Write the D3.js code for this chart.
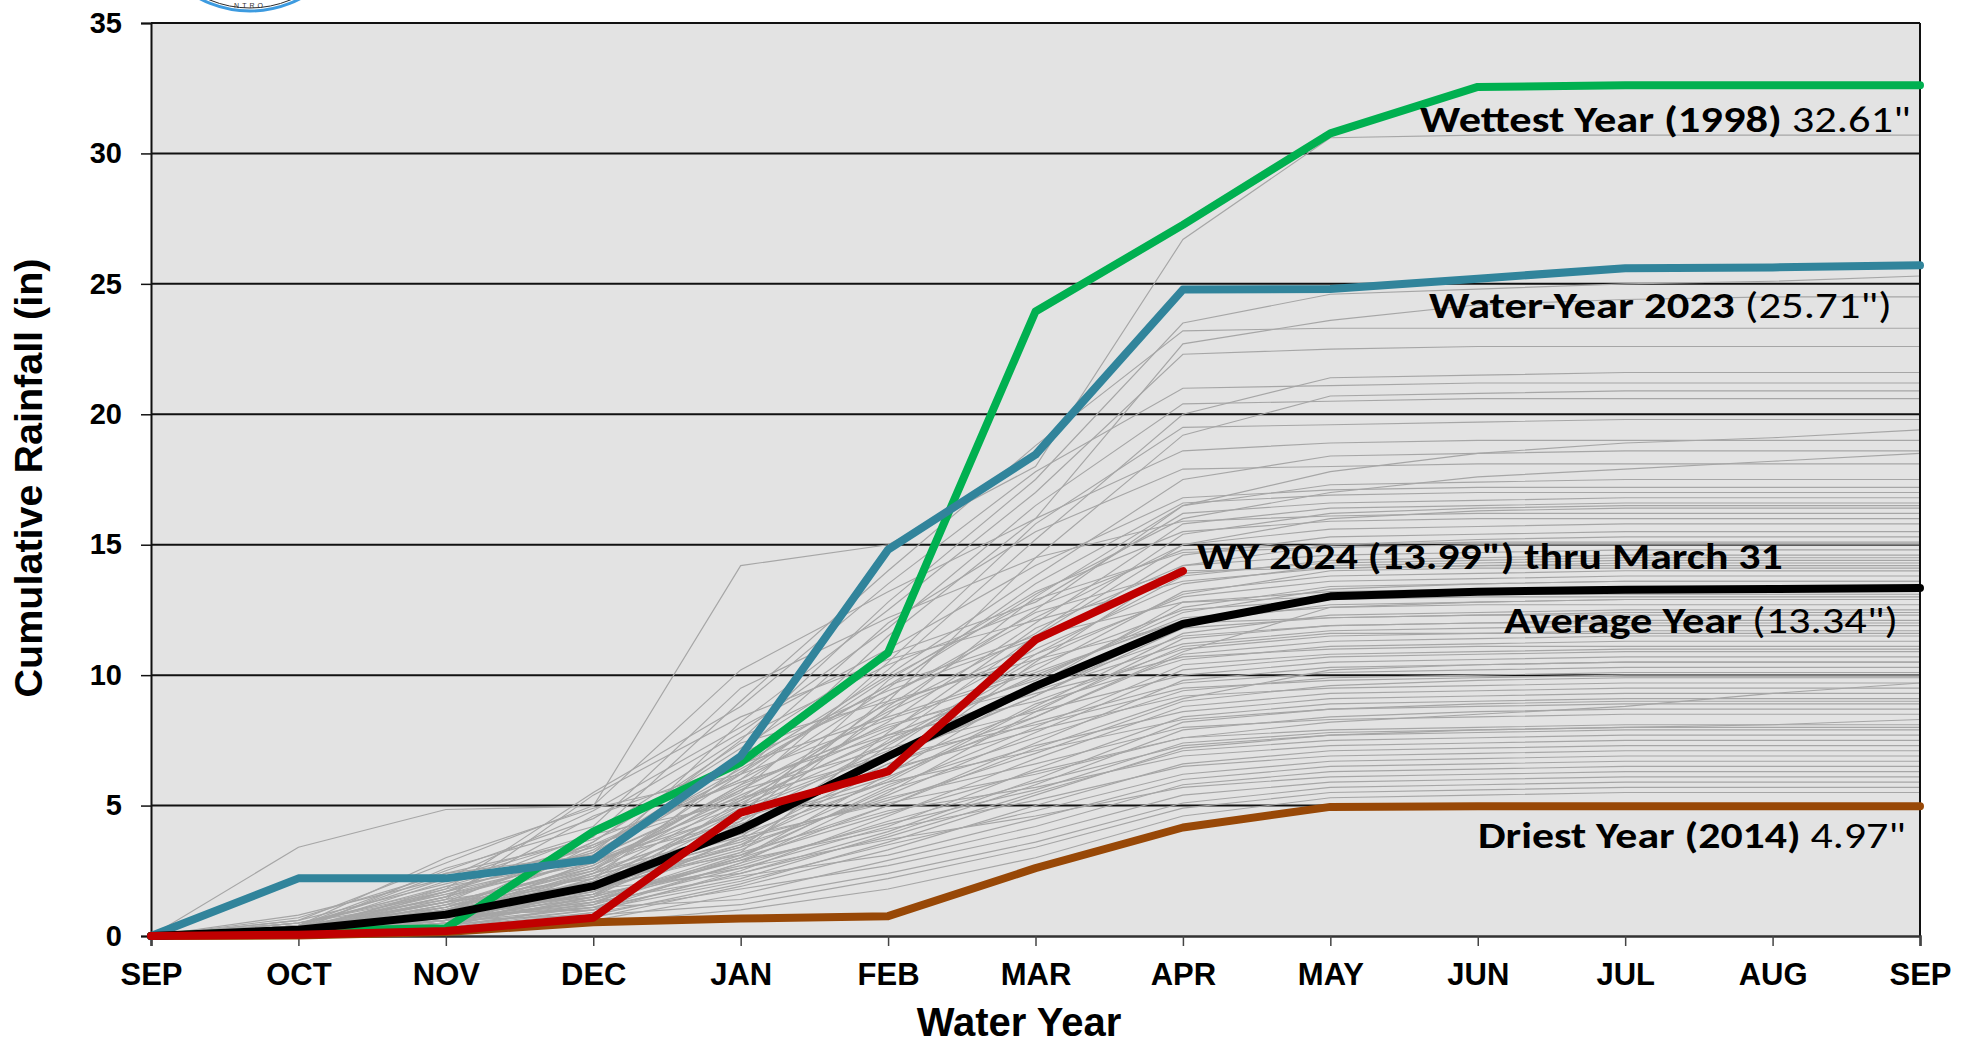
<!DOCTYPE html>
<html><head><meta charset="utf-8">
<script src="https://cdn.jsdelivr.net/npm/d3@7"></script>
<style>body{margin:0;background:#fff;overflow:hidden}</style>
</head><body><svg id="c" width="1973" height="1047"></svg>
<script>
// ---------- DATA ----------
const months = ["SEP","OCT","NOV","DEC","JAN","FEB","MAR","APR","MAY","JUN","JUL","AUG","SEP"];
const yTicks = [0,5,10,15,20,25,30,35];

const wettest1998 = [0,0.2,0.3,4.0,6.65,10.86,23.94,27.26,30.77,32.55,32.61,32.61,32.61];
const wy2023      = [0,2.21,2.21,2.93,6.89,14.81,18.45,24.78,24.8,25.2,25.6,25.63,25.71];
const average     = [0,0.24,0.82,1.91,4.08,6.89,9.58,11.96,13.02,13.2,13.27,13.3,13.34];
const wy2024      = [0,0.05,0.19,0.7,4.73,6.31,11.36,13.99];
const driest2014  = [0,0.02,0.15,0.53,0.67,0.76,2.6,4.16,4.95,4.97,4.97,4.97,4.97];

const historical = [
 [0,3.4,4.85,4.97,14.2,15.0,18.0,26.7,30.6,30.7,30.7,30.7,30.7],
 [0,0.2,1.5,3.2,7.5,12.8,17.5,23.5,24.6,24.8,25.0,25.1,25.3],
 [0,0.1,0.8,2.5,6.2,11.5,16.0,22.7,23.6,24.2,24.4,24.5,24.5],
 [0,0.3,2.1,3.8,9.0,14.0,18.8,23.2,23.3,23.3,23.3,23.3,23.3],
 [0,0.2,1.0,2.8,8.2,12.5,17.0,22.3,22.5,22.6,22.6,22.6,22.6],
 [0,0.1,0.6,3.5,6.0,10.2,15.2,20.0,21.4,21.5,21.6,21.6,21.6],
 [0,0.5,1.8,5.5,8.8,13.5,17.8,21.0,21.1,21.2,21.2,21.2,21.2],
 [0,0.0,0.9,2.0,5.0,9.0,14.5,19.2,20.7,20.8,20.9,20.9,20.9],
 [0,0.4,2.5,4.5,7.8,11.8,16.5,20.4,20.5,20.6,20.6,20.6,20.6],
 [0,0.1,1.1,3.0,5.5,10.5,15.8,19.5,19.6,19.7,19.8,19.8,19.8],
 [0,0.2,0.7,1.9,4.8,8.5,13.0,16.5,17.8,18.5,18.9,19.1,19.4],
 [0,0.6,2.8,5.0,10.2,13.2,16.0,18.6,18.9,19.0,19.0,19.0,19.0],
 [0,0.1,0.5,2.2,6.5,10.0,13.8,17.5,18.4,18.5,18.6,18.6,18.6],
 [0,0.3,1.6,3.1,7.0,12.0,15.5,17.9,18.0,18.1,18.1,18.1,18.1],
 [0,0.0,0.4,1.5,4.2,8.8,12.5,16.5,17.3,17.4,17.5,17.5,17.5],
 [0,0.8,2.2,4.8,8.0,11.0,14.2,16.8,17.1,17.2,17.2,17.2,17.2],
 [0,0.2,1.3,2.6,5.8,9.5,13.5,16.6,16.9,17.0,17.0,17.0,17.0],
 [0,0.1,0.9,3.6,7.2,10.8,12.8,16.2,16.6,16.7,16.8,16.8,16.8],
 [0,0.4,1.9,2.9,5.2,8.2,12.0,15.8,16.4,16.5,16.6,16.6,16.6],
 [0,0.0,0.3,1.2,3.8,7.5,11.5,15.0,16.0,16.3,16.4,16.4,16.4],
 [0,0.2,2.6,4.2,9.5,12.2,14.5,15.9,16.1,16.2,16.2,16.2,16.2],
 [0,0.1,0.6,1.8,4.6,9.8,13.2,15.5,15.9,16.0,16.0,16.0,16.0],
 [0,0.5,1.4,3.3,6.8,9.2,12.2,15.0,15.6,15.7,15.8,15.8,15.8],
 [0,0.2,0.8,2.4,5.6,8.6,11.2,14.6,15.3,15.4,15.5,15.5,15.5],
 [0,0.0,1.0,2.0,3.5,6.5,10.5,14.2,15.0,15.2,15.3,15.3,15.3],
 [0,0.3,1.7,3.9,7.6,10.4,12.6,14.8,15.0,15.1,15.1,15.1,15.1],
 [0,0.1,0.4,1.4,3.2,7.8,11.8,14.2,14.6,14.7,14.8,14.8,14.8],
 [0,0.6,2.0,3.4,6.0,8.9,10.8,13.8,14.4,14.5,14.6,14.6,14.6],
 [0,0.2,1.2,2.7,5.4,7.9,11.0,13.5,14.2,14.3,14.4,14.4,14.4],
 [0,0.0,0.5,1.6,4.4,9.2,12.4,14.0,14.1,14.2,14.2,14.2,14.2],
 [0,0.3,1.5,4.6,6.6,8.4,10.2,13.2,13.8,13.9,14.0,14.0,14.0],
 [0,0.1,0.8,2.1,4.9,7.1,10.8,13.0,13.6,13.7,13.8,13.8,13.8],
 [0,0.4,1.1,2.5,5.8,8.0,9.8,12.6,13.4,13.5,13.6,13.6,13.6],
 [0,0.0,0.6,1.3,3.0,6.2,9.6,12.8,13.2,13.3,13.4,13.4,13.4],
 [0,0.2,1.8,3.2,6.4,9.6,11.5,12.8,13.0,13.1,13.1,13.1,13.1],
 [0,0.1,0.5,1.7,4.0,6.8,9.2,12.0,12.7,12.8,12.9,12.9,12.9],
 [0,0.5,1.6,2.8,5.0,7.4,10.0,12.2,12.6,12.7,12.7,12.7,12.7],
 [0,0.1,0.9,2.3,3.9,5.9,8.8,11.6,12.3,12.4,12.5,12.5,12.5],
 [0,0.3,1.3,3.6,7.4,9.0,10.6,12.0,12.2,12.3,12.3,12.3,12.3],
 [0,0.0,0.3,1.0,2.8,5.5,8.6,11.4,11.9,12.0,12.1,12.1,12.1],
 [0,0.2,1.0,2.6,4.8,7.0,9.4,11.2,11.7,11.8,11.9,11.9,11.9],
 [0,0.7,2.4,3.7,5.9,7.7,9.0,11.0,11.5,11.6,11.7,11.7,11.7],
 [0,0.1,0.6,1.9,4.1,6.6,8.4,10.8,11.3,11.4,11.5,11.5,11.5],
 [0,0.2,1.4,2.2,3.6,6.0,8.9,10.6,11.1,11.2,11.3,11.3,11.3],
 [0,0.0,0.4,1.5,5.2,7.6,9.3,10.7,11.0,11.1,11.1,11.1,11.1],
 [0,0.3,0.9,2.0,3.4,5.4,7.8,10.2,10.7,10.8,10.9,10.9,10.9],
 [0,0.1,1.7,3.0,5.6,7.2,8.6,10.0,10.5,10.6,10.7,10.7,10.7],
 [0,0.4,0.8,1.4,2.9,5.0,7.4,9.8,10.3,10.4,10.5,10.5,10.5],
 [0,0.0,0.5,2.4,4.5,6.3,8.2,9.7,10.1,10.2,10.3,10.3,10.3],
 [0,0.2,1.2,1.8,3.3,5.8,7.6,9.4,9.9,10.0,10.1,10.1,10.1],
 [0,0.1,0.7,1.6,3.7,5.2,7.0,9.0,9.6,9.8,9.9,9.9,9.9],
 [0,0.3,1.5,2.9,4.7,6.4,7.9,9.2,9.5,9.6,9.7,9.7,9.7],
 [0,0.0,0.2,0.9,2.5,4.6,6.8,8.8,9.3,9.4,9.5,9.5,9.5],
 [0,0.2,1.0,2.1,3.1,5.6,7.3,8.6,9.1,9.2,9.3,9.3,9.3],
 [0,0.1,0.6,1.2,2.6,4.2,6.4,8.4,8.9,9.0,9.1,9.1,9.1],
 [0,0.4,1.3,2.5,4.3,5.9,7.1,8.3,8.7,8.8,8.9,8.9,8.9],
 [0,0.0,0.4,1.1,2.2,3.9,5.8,7.9,8.4,8.6,8.7,8.7,8.7],
 [0,0.2,0.9,1.7,3.5,5.3,6.6,8.0,8.3,8.4,8.5,8.5,8.5],
 [0,0.1,0.3,0.8,2.0,3.6,5.4,7.2,7.7,7.9,8.0,8.1,8.3],
 [0,0.3,1.1,2.3,3.8,5.1,6.2,7.6,7.9,8.0,8.1,8.1,8.1],
 [0,0.0,0.5,1.4,2.7,4.4,5.9,7.3,7.7,7.8,7.9,7.9,7.9],
 [0,0.1,0.8,1.0,2.4,3.8,5.5,7.1,7.5,7.6,7.7,7.7,7.7],
 [0,0.2,0.6,1.8,3.2,4.8,5.7,6.9,7.3,7.4,7.5,7.5,7.5],
 [0,0.0,0.3,0.7,1.9,3.3,5.0,6.6,7.1,7.2,7.3,7.3,7.3],
 [0,0.1,0.9,1.5,2.9,4.1,5.2,6.5,6.9,7.0,7.1,7.1,7.1],
 [0,0.2,0.4,1.0,2.1,3.5,4.8,6.2,6.7,6.8,6.9,6.9,6.9],
 [0,0.0,0.7,1.3,2.3,3.1,4.5,6.0,6.5,6.6,6.7,6.7,6.7],
 [0,0.1,0.2,0.6,1.6,2.9,4.2,5.8,6.3,6.4,6.5,6.5,6.5],
 [0,0.3,0.8,1.6,2.6,3.7,4.6,5.7,6.1,6.2,6.3,6.3,6.3],
 [0,0.0,0.3,0.9,1.8,2.7,3.9,5.4,5.9,6.0,6.1,6.1,6.1],
 [0,0.1,0.5,1.1,1.4,2.4,3.6,5.1,5.7,5.8,5.9,5.9,5.9],
 [0,0.2,0.6,0.8,1.2,2.2,3.4,4.9,5.5,5.6,5.7,5.7,5.7],
 [0,0.0,0.2,0.5,1.0,1.8,3.0,4.6,5.3,5.4,5.5,5.5,5.5],
 [0,0.1,0.7,2.2,5.3,8.7,11.6,15.4,16.2,16.4,16.5,16.5,16.5],
 [0,0.4,3.0,4.9,6.2,9.9,12.9,14.7,14.9,15.0,15.0,15.0,15.0],
 [0,0.3,2.4,3.1,7.0,9.4,11.4,13.9,14.3,14.4,14.5,14.5,14.5],
 [0,0.2,0.5,1.9,3.4,7.3,10.4,12.5,12.9,13.0,13.0,13.0,13.0],
 [0,0.0,1.1,2.7,5.7,8.1,9.5,11.5,11.9,12.0,12.0,12.0,12.0],
 [0,0.3,0.7,1.2,3.0,5.7,8.0,10.4,10.8,10.9,11.0,11.0,11.0],
 [0,0.1,1.9,3.5,5.3,6.9,8.1,9.5,9.8,9.9,10.0,10.0,10.0],
 [0,0.0,0.4,1.8,2.4,4.0,6.0,8.2,8.7,8.9,9.0,9.0,9.0],
 [0,0.2,0.7,1.1,2.8,4.3,5.6,7.4,7.8,7.9,8.0,8.0,8.0],
 [0,0.1,1.2,3.0,6.3,9.6,13.1,16.0,17.0,17.6,17.9,18.2,18.5],
 [0,0.2,0.6,1.5,3.0,4.7,6.3,7.6,8.2,8.5,8.8,9.3,9.7],
 [0,0.2,1.4,5.4,8.4,10.6,12.1,13.6,14.1,14.2,14.3,14.3,14.3],
 [0,0.4,2.2,3.9,5.1,7.7,9.9,12.4,13.3,13.5,13.6,13.6,13.6],
 [0,0.1,0.9,1.6,4.3,6.1,8.4,10.9,12.6,12.8,12.9,12.9,12.9],
 [0,0.3,1.0,2.4,4.0,6.9,9.2,11.8,12.2,12.3,12.4,12.4,12.4],
 [0,0.0,0.6,2.9,4.4,7.4,10.6,13.1,14.0,14.1,14.1,14.1,14.1],
 [0,0.2,1.3,2.0,3.7,6.6,8.7,11.1,11.6,11.6,11.6,11.6,11.6],
 [0,0.5,1.7,3.4,6.2,8.3,10.1,12.1,12.9,13.2,13.3,13.3,13.3],
 [0,0.1,0.2,1.3,3.1,5.0,7.2,9.1,10.2,10.4,10.5,10.5,10.5]
];

const annotations = [
  {bold:"Wettest Year (1998)", reg:" 32.61\"", anchor:"end",   i:12, v:32.61, dx:-9,  dy:47, w:491},
  {bold:"Water-Year 2023",     reg:" (25.71\")", anchor:"end", i:12, v:25.71, dx:-28, dy:53, w:463},
  {bold:"WY 2024 (13.99\") thru March 31", reg:"", anchor:"start", i:7, v:13.99, dx:14, dy:-2, w:586},
  {bold:"Average Year",        reg:" (13.34\")", anchor:"end", i:12, v:13.34, dx:-22, dy:45, w:394},
  {bold:"Driest Year (2014)",  reg:" 4.97\"", anchor:"end",    i:12, v:4.97,  dx:-14, dy:42, w:428}
];

// ---------- CHART ----------
const svg = d3.select("#c");
const x = d3.scaleLinear().domain([0,12]).range([151,1920]);
const y = d3.scaleLinear().domain([0,35]).range([936,23]);
const axisFont = "'Liberation Sans', Arial, sans-serif";
const annFont = "Carlito, Lato, sans-serif";

// logo (partially cut off at top)
const logo = svg.append("g");
logo.append("circle").attr("cx",250).attr("cy",-97).attr("r",108)
  .attr("fill","#fff").attr("stroke","#3d9be0").attr("stroke-width",3);
logo.append("circle").attr("cx",250).attr("cy",-97).attr("r",105)
  .attr("fill","none").attr("stroke","#2a2a2a").attr("stroke-width",1);
logo.append("text").attr("x",250).attr("y",8).attr("text-anchor","middle")
  .attr("font-family",axisFont).attr("font-size",7).attr("letter-spacing",3)
  .attr("fill","#333").text("NTRO");

// plot background
svg.append("rect").attr("x",x(0)).attr("y",y(35)).attr("width",x(12)-x(0)).attr("height",y(0)-y(35))
  .attr("fill","#e3e3e3");

// gridlines
svg.append("g").selectAll("line").data(yTicks.filter(d=>d>0)).join("line")
  .attr("x1",x(0)).attr("x2",x(12)).attr("y1",d=>y(d)).attr("y2",d=>y(d))
  .attr("stroke","#111").attr("stroke-width",2);

// historical gray lines
const line = d3.line().x((d,i)=>x(i)).y(d=>y(d));
svg.append("g").selectAll("path").data(historical).join("path")
  .attr("d",line).attr("fill","none").attr("stroke","#a6a6a6").attr("stroke-width",1.15);

// frame
svg.append("line").attr("x1",x(12)).attr("x2",x(12)).attr("y1",y(35)).attr("y2",y(0))
  .attr("stroke","#111").attr("stroke-width",2);

// axes
const yAxis = svg.append("g").attr("transform",`translate(${x(0)},0)`)
  .call(d3.axisLeft(y).tickValues(yTicks).tickSize(10).tickPadding(19));
yAxis.select(".domain").attr("stroke","#111").attr("stroke-width",2);
yAxis.selectAll(".tick line").attr("stroke","#111").attr("stroke-width",1.5);
yAxis.selectAll("text").attr("font-family",axisFont).attr("font-weight","bold")
  .attr("font-size",29).attr("fill","#000");

const xAxis = svg.append("g").attr("transform",`translate(0,${y(0)})`)
  .call(d3.axisBottom(x).tickValues(d3.range(13)).tickFormat(i=>months[i]).tickSize(10).tickPadding(17));
xAxis.select(".domain").attr("stroke","#333").attr("stroke-width",2.5);
xAxis.selectAll(".tick line").attr("stroke","#444").attr("stroke-width",1.5);
xAxis.selectAll("text").attr("font-family",axisFont).attr("font-weight","bold")
  .attr("font-size",31).attr("fill","#000");

// axis titles
svg.append("text").attr("x",1019).attr("y",1036).attr("text-anchor","middle")
  .attr("font-family",axisFont).attr("font-weight","bold").attr("font-size",40).text("Water Year");
svg.append("text").attr("transform","translate(42,478) rotate(-90)").attr("text-anchor","middle")
  .attr("font-family",axisFont).attr("font-weight","bold").attr("font-size",39.5).text("Cumulative Rainfall (in)");

// highlighted series
const hl = [
  {data:driest2014, color:"#984807"},
  {data:wettest1998, color:"#00b050"},
  {data:wy2023, color:"#31849b"},
  {data:average, color:"#000000"},
  {data:wy2024, color:"#c00000"}
];
svg.append("g").selectAll("path").data(hl).join("path")
  .attr("d",d=>line(d.data)).attr("fill","none").attr("stroke",d=>d.color)
  .attr("stroke-width",8).attr("stroke-linejoin","round").attr("stroke-linecap","round");

// annotations
annotations.forEach(a=>{
  const t = svg.append("text").attr("font-family",annFont).attr("font-size",37).attr("fill","#000");
  t.append("tspan").attr("font-weight","bold").text(a.bold);
  if (a.reg) t.append("tspan").attr("font-weight","normal").text(a.reg);
  const w = t.node().getComputedTextLength();
  const sx = a.w / w;
  const left = a.anchor==="end" ? x(a.i)+a.dx - a.w : x(a.i)+a.dx;
  t.attr("transform",`translate(${left},${y(a.v)+a.dy}) scale(${sx},1)`);
});
</script></body></html>
